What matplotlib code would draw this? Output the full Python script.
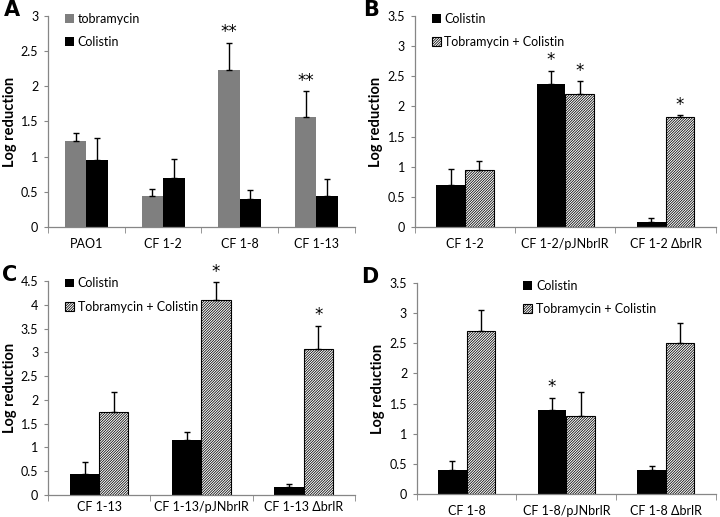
import matplotlib
matplotlib.use('Agg')
import matplotlib.pyplot as plt
import numpy as np

plt.rcParams['font.family'] = ['Lato', 'DejaVu Sans']
plt.rcParams['hatch.linewidth'] = 0.55

# panel A
a_labels = ['PAO1', 'CF 1-2', 'CF 1-8', 'CF 1-13']
a_tobra = [1.22, 0.44, 2.23, 1.56]
a_tobra_err = [0.12, 0.105, 0.39, 0.37]
a_col = [0.95, 0.69, 0.40, 0.445]
a_col_err = [0.31, 0.28, 0.13, 0.235]
a_stars = [['', '', '**', '**'], ['', '', '', '']]

# panel B
b_labels = ['CF 1-2', 'CF 1-2/pJNbrlR', 'CF 1-2 \u0394brlR']
b_col = [0.69, 2.37, 0.08]
b_col_err = [0.28, 0.22, 0.07]
b_tc = [0.945, 2.20, 1.82]
b_tc_err = [0.145, 0.22, 0.035]
b_stars = [['', '*', ''], ['', '*', '*']]

# panel C
c_labels = ['CF 1-13', 'CF 1-13/pJNbrlR', 'CF 1-13 \u0394brlR']
c_col = [0.445, 1.15, 0.17]
c_col_err = [0.245, 0.17, 0.07]
c_tc = [1.75, 4.09, 3.07]
c_tc_err = [0.42, 0.39, 0.49]
c_stars = [['', '', ''], ['', '*', '*']]

# panel D
d_labels = ['CF 1-8', 'CF 1-8/pJNbrlR', 'CF 1-8 \u0394brlR']
d_col = [0.40, 1.40, 0.40]
d_col_err = [0.14, 0.20, 0.07]
d_tc = [2.70, 1.30, 2.50]
d_tc_err = [0.35, 0.40, 0.34]
d_stars = [['', '*', ''], ['', '', '']]

AXIS_GRAY = '#868686'
FS = 9


def bar_panel(ax, labels, series, errs, stars, names, styles, ymax, letter,
              letter_x, legend_x, xpad=8):
    x = np.arange(len(labels))
    w = 0.28 if len(labels) == 4 else 0.286
    offsets = [-w / 2, w / 2]
    handles = []
    for vals, err, st, name, off, sty in zip(series, errs, stars, names, offsets, styles):
        b = ax.bar(x + off, vals, w, label=name, zorder=2, **sty)
        handles.append(b)
        ax.errorbar(x + off, vals, yerr=[np.zeros(len(err)), err], fmt='none',
                    ecolor='black', elinewidth=1, capsize=2, capthick=1, zorder=3)
        for xi, v, e, s in zip(x + off, vals, err, st):
            if s:
                ax.annotate(s, xy=(xi, v + e), xytext=(0, 1), textcoords='offset points',
                            ha='center', va='bottom', fontsize=12, family='DejaVu Sans')
    ax.set_xlim(-0.5, len(labels) - 0.5)
    ax.set_ylim(0, ymax)
    ticks = np.arange(0, ymax + 0.001, 0.5)
    ax.set_yticks(ticks)
    ax.set_yticklabels(['%g' % t for t in ticks], fontsize=FS)
    ax.set_xticks(x)
    ax.set_xticklabels(labels, fontsize=FS)
    ax.set_xticks(np.arange(-0.5, len(labels)), minor=True)
    ax.tick_params(axis='x', which='major', length=0, pad=xpad)
    ax.tick_params(axis='x', which='minor', length=4, color=AXIS_GRAY, direction='out')
    ax.tick_params(axis='y', length=3, color=AXIS_GRAY, direction='out', pad=4)
    for sp in ['top', 'right']:
        ax.spines[sp].set_visible(False)
    for sp in ['left', 'bottom']:
        ax.spines[sp].set_color(AXIS_GRAY)
        ax.spines[sp].set_linewidth(0.9)
    ax.set_ylabel('Log reduction', fontsize=10.5, fontweight='bold', labelpad=3)
    ax.legend(handles=handles, loc='upper left', bbox_to_anchor=(legend_x, 1.04), frameon=False,
              fontsize=FS, handlelength=0.7, handleheight=0.7, handletextpad=0.3,
              labelspacing=0.9, borderaxespad=0)
    ax.text(letter_x, 1.03, letter, transform=ax.transAxes, fontsize=15, fontweight='bold',
            family='DejaVu Sans', ha='left', va='center')


fig = plt.figure(figsize=(7.2, 5.17), dpi=100)
axA = fig.add_axes([0.0667, 0.561, 0.426, 0.408])
axB = fig.add_axes([0.576, 0.561, 0.418, 0.408])
axC = fig.add_axes([0.0667, 0.0426, 0.426, 0.414])
axD = fig.add_axes([0.579, 0.0445, 0.415, 0.408])

gray_sty = dict(color='#7f7f7f')
black_sty = dict(color='black')
hatch_sty = dict(facecolor='white', edgecolor='black', hatch='/' * 13, linewidth=0.8)

bar_panel(axA, a_labels, [a_tobra, a_col], [a_tobra_err, a_col_err], a_stars,
          ['tobramycin', 'Colistin'], [gray_sty, black_sty], 3, 'A', -0.145, 0.04)
bar_panel(axB, b_labels, [b_col, b_tc], [b_col_err, b_tc_err], b_stars,
          ['Colistin', 'Tobramycin + Colistin'], [black_sty, hatch_sty], 3.5, 'B', -0.17, 0.04)
bar_panel(axC, c_labels, [c_col, c_tc], [c_col_err, c_tc_err], c_stars,
          ['Colistin', 'Tobramycin + Colistin'], [black_sty, hatch_sty], 4.5, 'C', -0.15, 0.04,
          xpad=4)
bar_panel(axD, d_labels, [d_col, d_tc], [d_col_err, d_tc_err], d_stars,
          ['Colistin', 'Tobramycin + Colistin'], [black_sty, hatch_sty], 3.5, 'D', -0.185, 0.34)

fig.savefig('out.png', dpi=100)
